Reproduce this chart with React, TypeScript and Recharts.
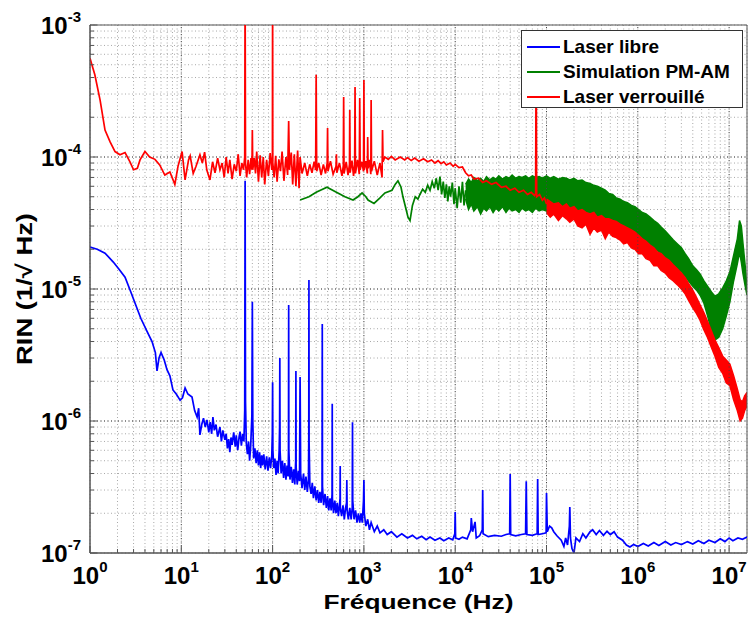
import React from 'react'
import {
  ComposedChart,
  Line,
  Area,
  XAxis,
  YAxis,
  CartesianGrid,
  ReferenceLine,
  ReferenceArea,
  Legend,
  Label,
} from 'recharts'

type Pt = [number, number]
type Band = [number, number, number]

// Laser libre : [frequency Hz, RIN]
const laserLibre: Pt[] = [
  [1, 2.08e-5], [1.2, 2.0e-5], [1.46, 1.87e-5], [1.8, 1.6e-5], [2.1, 1.4e-5], [2.42, 1.23e-5],
  [2.8, 9.5e-6], [3.11, 7.84e-6], [3.6, 6.0e-6], [4.2, 4.8e-6], [4.78, 4.0e-6], [5.2, 3.3e-6],
  [5.42, 2.4e-6], [5.7, 3.0e-6], [6.0, 3.3e-6], [6.5, 2.9e-6], [6.97, 2.45e-6], [7.5, 2.2e-6],
  [8.1, 1.72e-6], [8.8, 1.6e-6], [9.7, 1.44e-6], [10.3, 1.5e-6], [11, 1.78e-6], [11.8, 1.6e-6],
  [13.1, 1.52e-6], [14.0, 1.2e-6], [14.9, 1.07e-6], [15.5, 1.25e-6], [16, 7.84e-7], [16.8, 9.5e-7],
  [17.5, 1.05e-6], [18.3, 9.0e-7], [19.1, 1.02e-6], [20, 8.2e-7], [20.7, 9.8e-7], [21.5, 8.0e-7],
  [22.2, 1.07e-6], [23, 8.5e-7], [24, 9.4e-7], [25, 7.6e-7], [26.5, 9e-7], [27.5, 7.0e-7],
  [28.5, 8.5e-7], [30, 7.2e-7], [31, 8.0e-7], [32, 6.2e-7], [33, 7.3e-7], [34, 5.8e-7],
  [35, 7.5e-7], [36, 6.6e-7], [37.5, 8.2e-7], [39, 6.4e-7], [40, 7.8e-7], [41.5, 6.0e-7],
  [43, 7.6e-7], [44, 8.3e-7], [45.5, 6.5e-7], [47, 8.0e-7], [48.5, 7.0e-7], [49.5, 1.2e-6],
  [50, 6.6e-5], [50.5, 1.4e-6], [51.5, 6.8e-7], [53, 5.6e-7], [54.5, 7.0e-7], [56, 5.0e-7],
  [57.5, 6.4e-7], [59.3, 1.1e-6], [60, 8.0e-6], [60.7, 1.0e-6], [62, 5.2e-7], [64, 6.2e-7],
  [66, 4.8e-7], [68, 6.0e-7], [70, 4.6e-7], [72, 5.8e-7], [74, 4.4e-7], [76, 5.5e-7],
  [78, 4.6e-7], [80, 5.6e-7], [83, 4.3e-7], [86, 5.4e-7], [89, 4.2e-7], [92, 5.3e-7],
  [95, 4.4e-7], [98, 5.5e-7], [99.3, 8e-7], [100, 1.97e-6], [100.7, 6e-7], [103, 4.4e-7],
  [106, 5.2e-7], [109, 3.9e-7], [112, 5.0e-7], [115, 4.0e-7], [118, 6.0e-7], [119.3, 9e-7],
  [120, 3.0e-6], [120.7, 6e-7], [124, 4.0e-7], [128, 5.0e-7], [132, 3.7e-7], [136, 4.8e-7],
  [140, 3.6e-7], [144, 4.6e-7], [148, 3.8e-7], [149.3, 6e-7], [150, 7.57e-6], [150.7, 6e-7],
  [155, 3.6e-7], [160, 4.5e-7], [165, 3.4e-7], [170, 4.3e-7], [175, 3.3e-7], [179, 5e-7],
  [180, 2.39e-6], [181, 4.5e-7], [186, 3.3e-7], [192, 4.2e-7], [197, 3.5e-7], [200, 2.15e-6],
  [203, 4.0e-7], [210, 3.1e-7], [218, 4.0e-7], [225, 3.0e-7], [232, 3.8e-7], [240, 2.9e-7],
  [247, 3.6e-7], [249, 8e-7], [250, 1.17e-5], [251, 7e-7], [256, 3.2e-7], [264, 2.8e-7],
  [272, 3.4e-7], [280, 2.6e-7], [290, 3.2e-7], [300, 2.5e-7], [310, 3.0e-7], [320, 2.4e-7],
  [330, 2.9e-7], [340, 2.4e-7], [348, 3e-7], [350, 5.43e-6], [352, 3.2e-7], [362, 2.3e-7],
  [375, 2.8e-7], [388, 2.2e-7], [400, 2.7e-7], [412, 2.1e-7], [425, 2.6e-7], [438, 2.1e-7],
  [448, 2.8e-7], [450, 1.35e-6], [452, 2.6e-7], [465, 2.0e-7], [480, 2.5e-7], [495, 2.0e-7],
  [510, 2.4e-7], [525, 1.9e-7], [540, 2.3e-7], [548, 2.6e-7], [550, 4.56e-7], [552, 2.2e-7],
  [570, 1.9e-7], [590, 2.3e-7], [610, 1.8e-7], [630, 2.2e-7], [645, 2.4e-7], [650, 3.57e-7],
  [655, 2.1e-7], [675, 1.8e-7], [700, 2.2e-7], [725, 1.8e-7], [745, 2.2e-7], [750, 9.8e-7],
  [755, 2.5e-7], [780, 1.8e-7], [810, 2.1e-7], [840, 1.7e-7], [870, 2.0e-7], [900, 1.7e-7],
  [930, 2.0e-7], [960, 1.7e-7], [990, 2.5e-7], [1000, 3.57e-7], [1010, 2.0e-7], [1050, 1.6e-7],
  [1100, 1.8e-7], [1150, 1.5e-7], [1200, 1.7e-7], [1300, 1.45e-7], [1400, 1.6e-7], [1500, 1.42e-7],
  [1650, 1.5e-7], [1800, 1.38e-7], [2000, 1.45e-7], [2300, 1.32e-7], [2600, 1.4e-7], [3000, 1.3e-7],
  [3400, 1.36e-7], [3800, 1.28e-7], [4300, 1.34e-7], [4800, 1.26e-7], [5300, 1.32e-7], [6000, 1.25e-7],
  [6800, 1.3e-7], [7500, 1.24e-7], [8500, 1.3e-7], [9400, 1.26e-7], [9900, 1.4e-7], [1.0e4, 2.04e-7],
  [1.01e4, 1.3e-7], [1.1e4, 1.27e-7], [1.2e4, 1.32e-7], [1.35e4, 1.28e-7], [1.48e4, 1.5e-7], [1.5e4, 1.84e-7],
  [1.55e4, 1.45e-7], [1.65e4, 1.72e-7], [1.7e4, 1.3e-7], [1.85e4, 1.35e-7], [1.98e4, 1.5e-7], [2.0e4, 3.0e-7],
  [2.02e4, 1.4e-7], [2.3e4, 1.33e-7], [2.7e4, 1.36e-7], [3.2e4, 1.34e-7], [3.6e4, 1.38e-7], [3.95e4, 1.4e-7],
  [4.0e4, 3.97e-7], [4.05e4, 1.38e-7], [4.6e4, 1.35e-7], [5.3e4, 1.38e-7], [5.9e4, 1.4e-7], [6.0e4, 3.5e-7],
  [6.1e4, 1.38e-7], [7.0e4, 1.36e-7], [7.9e4, 1.4e-7], [8.0e4, 3.64e-7], [8.1e4, 1.38e-7], [9.0e4, 1.4e-7],
  [9.9e4, 1.42e-7], [1.0e5, 2.85e-7], [1.02e5, 1.45e-7], [1.08e5, 1.6e-7], [1.14e5, 1.55e-7], [1.2e5, 1.45e-7],
  [1.3e5, 1.35e-7], [1.45e5, 1.25e-7], [1.55e5, 1.12e-7], [1.62e5, 1.3e-7], [1.7e5, 1.15e-7], [1.78e5, 1.6e-7],
  [1.8e5, 2.23e-7], [1.83e5, 1.3e-7], [1.9e5, 1.08e-7], [2.0e5, 1.0e-7], [2.1e5, 1.3e-7], [2.3e5, 1.22e-7],
  [2.5e5, 1.4e-7], [2.7e5, 1.3e-7], [3.0e5, 1.45e-7], [3.2e5, 1.5e-7], [3.5e5, 1.38e-7], [3.8e5, 1.48e-7],
  [4.2e5, 1.36e-7], [4.6e5, 1.46e-7], [5.0e5, 1.38e-7], [5.5e5, 1.45e-7], [6.0e5, 1.32e-7], [6.8e5, 1.25e-7],
  [7.5e5, 1.15e-7], [8.2e5, 1.11e-7], [9e5, 1.16e-7], [1.0e6, 1.12e-7], [1.15e6, 1.18e-7], [1.3e6, 1.13e-7],
  [1.5e6, 1.2e-7], [1.7e6, 1.14e-7], [2.0e6, 1.22e-7], [2.3e6, 1.15e-7], [2.6e6, 1.2e-7], [3.0e6, 1.16e-7],
  [3.5e6, 1.22e-7], [4.0e6, 1.17e-7], [4.6e6, 1.24e-7], [5.3e6, 1.18e-7], [6.0e6, 1.25e-7], [7.0e6, 1.2e-7],
  [8.0e6, 1.28e-7], [9.0e6, 1.22e-7], [1.0e7, 1.3e-7], [1.1e7, 1.24e-7], [1.25e7, 1.3e-7], [1.4e7, 1.27e-7],
  [1.57e7, 1.32e-7],
]

// Simulation PM-AM, thin part
const simLow: Pt[] = [
  [200, 4.72e-5], [250, 5.0e-5], [300, 5.4e-5], [394, 5.9e-5], [500, 5.4e-5], [620, 5.0e-5],
  [760, 4.72e-5], [860, 5.0e-5], [955, 5.34e-5], [1050, 5.0e-5], [1110, 4.72e-5], [1290, 4.45e-5],
  [1500, 4.9e-5], [1700, 5.34e-5], [2030, 5.6e-5], [2200, 6.2e-5], [2360, 6.6e-5], [2550, 5.9e-5],
  [2680, 4.97e-5], [2900, 4.0e-5], [3040, 3.5e-5], [3200, 3.3e-5], [3400, 4.3e-5], [3650, 5.0e-5],
  [3900, 4.8e-5], [4110, 5.2e-5], [4400, 5.7e-5], [4700, 5.4e-5], [5000, 6.1e-5], [5300, 5.6e-5],
  [5600, 6.5e-5], [5900, 5.8e-5], [6200, 6.9e-5], [6500, 5.6e-5], [6810, 7.1e-5], [7100, 5.2e-5],
  [7400, 6.5e-5], [7700, 4.9e-5], [8000, 6.2e-5], [8300, 4.6e-5], [8600, 6.0e-5], [8900, 5.0e-5],
  [9300, 6.4e-5], [9700, 4.4e-5], [1.0e4, 5.8e-5], [1.05e4, 4.1e-5], [1.1e4, 6.0e-5], [1.15e4, 4.5e-5],
  [1.2e4, 6.5e-5], [1.25e4, 4.3e-5], [1.3e4, 5.6e-5],
]

// Simulation PM-AM, noisy band: [frequency, min, max]
const simBand: Band[] = [
  [1.3e4, 4.8e-5, 6.2e-5], [1.4e4, 4.0e-5, 6.8e-5], [1.5e4, 4.4e-5, 6.4e-5], [1.6e4, 3.9e-5, 7.0e-5],
  [1.75e4, 4.2e-5, 6.6e-5], [1.9e4, 3.7e-5, 6.9e-5], [2.05e4, 4.1e-5, 6.5e-5], [2.2e4, 3.9e-5, 7.1e-5],
  [2.4e4, 4.2e-5, 6.7e-5], [2.6e4, 3.8e-5, 7.0e-5], [2.8e4, 4.1e-5, 6.8e-5], [3.0e4, 3.9e-5, 7.2e-5],
  [3.3e4, 4.2e-5, 6.8e-5], [3.6e4, 3.8e-5, 7.1e-5], [3.9e4, 4.1e-5, 6.9e-5], [4.2e4, 3.9e-5, 7.3e-5],
  [4.6e4, 4.0e-5, 6.9e-5], [5.0e4, 3.8e-5, 7.1e-5], [5.4e4, 4.1e-5, 7.0e-5], [5.9e4, 3.9e-5, 7.2e-5],
  [6.4e4, 4.0e-5, 6.9e-5], [7.0e4, 3.8e-5, 7.2e-5], [7.6e4, 4.1e-5, 7.0e-5], [8.3e4, 3.9e-5, 7.1e-5],
  [9.0e4, 4.0e-5, 6.9e-5], [1.0e5, 3.9e-5, 7.2e-5], [1.1e5, 3.8e-5, 6.9e-5], [1.2e5, 4.0e-5, 7.1e-5],
  [1.35e5, 3.7e-5, 6.8e-5], [1.5e5, 3.9e-5, 7.0e-5], [1.65e5, 3.7e-5, 6.9e-5], [1.8e5, 3.8e-5, 6.7e-5],
  [2.0e5, 3.6e-5, 6.9e-5], [2.2e5, 3.7e-5, 6.6e-5], [2.45e5, 3.5e-5, 6.7e-5], [2.7e5, 3.6e-5, 6.4e-5],
  [3.0e5, 3.4e-5, 6.3e-5], [3.3e5, 3.5e-5, 6.1e-5], [3.6e5, 3.3e-5, 6.0e-5], [4.0e5, 3.3e-5, 5.8e-5],
  [4.4e5, 3.1e-5, 5.6e-5], [4.8e5, 3.15e-5, 5.3e-5], [5.3e5, 3.0e-5, 5.2e-5], [5.8e5, 2.9e-5, 4.9e-5],
  [6.4e5, 2.85e-5, 4.8e-5], [7e5, 2.7e-5, 4.6e-5], [7.7e5, 2.65e-5, 4.5e-5], [8.5e5, 2.5e-5, 4.3e-5],
  [9.3e5, 2.45e-5, 4.2e-5], [1.02e6, 2.35e-5, 4.0e-5], [1.12e6, 2.3e-5, 3.8e-5], [1.23e6, 2.2e-5, 3.7e-5],
  [1.36e6, 2.15e-5, 3.5e-5], [1.5e6, 2.0e-5, 3.3e-5], [1.65e6, 1.95e-5, 3.15e-5], [1.8e6, 1.85e-5, 2.95e-5],
  [2.0e6, 1.72e-5, 2.75e-5], [2.2e6, 1.62e-5, 2.55e-5], [2.45e6, 1.52e-5, 2.35e-5], [2.7e6, 1.42e-5, 2.2e-5],
  [3.0e6, 1.35e-5, 2.05e-5], [3.3e6, 1.25e-5, 1.85e-5], [3.6e6, 1.15e-5, 1.7e-5], [4.0e6, 1.05e-5, 1.5e-5],
  [4.4e6, 9.8e-6, 1.4e-5], [4.8e6, 9.0e-6, 1.3e-5], [5.3e6, 7.8e-6, 1.15e-5], [5.8e6, 6.3e-6, 1.05e-5],
  [6.4e6, 4.8e-6, 9.5e-6], [7.0e6, 4.1e-6, 8.8e-6], [7.7e6, 4.3e-6, 9.2e-6], [8.5e6, 5.0e-6, 1.02e-5],
  [9.3e6, 6.2e-6, 1.15e-5], [1.02e7, 8.0e-6, 1.35e-5], [1.12e7, 1.15e-5, 1.8e-5], [1.23e7, 1.55e-5, 2.4e-5],
  [1.3e7, 1.9e-5, 3.3e-5], [1.36e7, 1.6e-5, 3.0e-5], [1.42e7, 1.3e-5, 2.2e-5], [1.5e7, 1.05e-5, 1.5e-5],
  [1.57e7, 9.0e-6, 1.0e-5],
]

// Laser verrouillé, line part
const lockedLow: Pt[] = [
  [1, 5.6e-4], [1.13, 4.2e-4], [1.29, 2.7e-4], [1.46, 1.6e-4], [1.66, 1.3e-4], [1.88, 1.1e-4],
  [2.13, 1.04e-4], [2.42, 1.08e-4], [2.74, 9.2e-5], [3.0, 8.0e-5], [3.3, 8.2e-5], [3.53, 9.5e-5],
  [4.0, 1.1e-4], [4.5, 1.0e-4], [5.15, 9.6e-5], [5.8, 8.7e-5], [6.6, 7.3e-5], [7.5, 7.7e-5],
  [8.5, 6.2e-5], [9.2, 8.5e-5], [10.2, 1.1e-4], [11, 6.7e-5], [12, 9.5e-5], [12.5, 1.02e-4],
  [13.5, 7.5e-5], [14.5, 8.5e-5], [16, 1.04e-4], [17, 9e-5], [18, 1.09e-4], [19, 8e-5],
  [20.6, 6.7e-5], [22, 9.2e-5], [23.4, 7.6e-5], [25, 9.8e-5], [26.5, 8e-5], [28, 9e-5],
  [29.5, 7e-5], [31, 1.0e-4], [32.5, 7.5e-5], [34, 9.5e-5], [36, 6.8e-5], [38, 8.8e-5],
  [40, 7.8e-5], [42, 1.05e-4], [44, 7.2e-5], [46, 9e-5], [48, 8e-5], [49.5, 1e-4],
  [50, 2e-3], [50.5, 9e-5], [52, 7e-5], [54, 9.5e-5], [56, 7.4e-5], [58, 9.8e-5],
  [59.4, 8e-5], [60, 1.6e-4], [60.6, 8e-5], [63, 9.8e-5], [65, 7.5e-5], [67, 1.1e-4],
  [70, 6.5e-5], [73, 1.03e-4], [76, 7e-5], [79, 1.0e-4], [82, 6.2e-5], [86, 9.5e-5],
  [90, 7.2e-5], [94, 1.07e-4], [98, 8e-5], [99.5, 1e-4], [100, 2e-3], [100.5, 9e-5],
  [104, 7e-5], [108, 1.02e-4], [112, 6.5e-5], [117, 9.6e-5], [122, 7.8e-5], [127, 1.1e-4],
  [133, 6.6e-5], [140, 1.0e-4], [146, 7.3e-5], [150, 1.87e-4], [153, 8e-5], [160, 1.08e-4],
  [166, 6.2e-5], [173, 1.05e-4], [180, 6.0e-5], [188, 1.12e-4], [195, 5.8e-5], [200, 1.0e-4],
  [210, 7.5e-5], [225, 9e-5], [240, 7.2e-5], [255, 8.8e-5], [270, 7.6e-5], [285, 9.2e-5],
  [296, 8e-5], [300, 4.2e-4], [304, 7.8e-5], [320, 9e-5], [340, 7.3e-5], [360, 8.8e-5],
  [380, 7.5e-5], [396, 9e-5], [400, 1.66e-4], [404, 7.8e-5], [430, 9.3e-5], [460, 7.4e-5],
  [495, 8.5e-5], [500, 1.05e-4], [505, 7.6e-5], [540, 9e-5], [575, 7.2e-5], [595, 8.6e-5],
  [600, 2.85e-4], [606, 7.5e-5], [640, 9.2e-5], [670, 7.3e-5], [695, 8.8e-5], [700, 2.27e-4],
  [707, 7.6e-5], [740, 9.4e-5], [770, 7.2e-5], [792, 8.8e-5], [800, 3.39e-4], [808, 7.5e-5],
  [850, 9.5e-5], [890, 7.4e-5], [900, 2.8e-4], [910, 8e-5], [950, 9.2e-5], [990, 7.8e-5],
  [1000, 3.83e-4], [1010, 8e-5], [1050, 9.3e-5], [1090, 7.5e-5], [1100, 1.42e-4], [1112, 8.2e-5],
  [1150, 9.5e-5], [1190, 7.4e-5], [1200, 2.7e-4], [1212, 7.8e-5], [1300, 9.3e-5], [1400, 7.3e-5],
  [1500, 9e-5], [1580, 7e-5], [1600, 1.6e-4], [1620, 9.2e-5], [1700, 1.0e-4], [1850, 9.6e-5],
  [2000, 1.01e-4], [2200, 9.5e-5], [2500, 1.0e-4], [2800, 9.5e-5], [3000, 9.9e-5], [3300, 9.4e-5],
  [3600, 9.8e-5], [4000, 9.3e-5], [4500, 9.7e-5], [5000, 9.2e-5], [5500, 9.5e-5], [6000, 9.0e-5],
  [6500, 9.4e-5], [7000, 8.9e-5], [7500, 9.2e-5], [8000, 8.7e-5], [8800, 9.0e-5], [9500, 8.5e-5],
  [1.0e4, 8.8e-5], [1.1e4, 8.3e-5], [1.2e4, 8.4e-5], [1.3e4, 7.6e-5], [1.4e4, 7.2e-5], [1.5e4, 7.3e-5],
  [1.6e4, 6.8e-5], [1.8e4, 6.9e-5], [2.0e4, 6.4e-5], [2.2e4, 6.6e-5], [2.5e4, 6.2e-5], [2.8e4, 6.4e-5],
  [3.2e4, 5.9e-5], [3.6e4, 6.0e-5], [4.0e4, 5.6e-5], [4.5e4, 5.8e-5], [5.0e4, 5.4e-5], [5.6e4, 5.6e-5],
  [6.2e4, 5.2e-5], [6.8e4, 5.4e-5], [7.4e4, 5.1e-5], [7.6e4, 5.3e-5], [7.7e4, 8e-4], [7.8e4, 5.0e-5],
  [8.4e4, 5.2e-5], [9.0e4, 4.7e-5], [9.5e4, 4.9e-5], [1.0e5, 4.4e-5],
]

// Laser verrouillé, noisy band: [frequency, min, max]
const lockedBand: Band[] = [
  [1.0e5, 3.8e-5, 4.8e-5], [1.1e5, 3.5e-5, 4.6e-5], [1.2e5, 3.7e-5, 4.4e-5], [1.35e5, 3.3e-5, 4.5e-5],
  [1.5e5, 3.6e-5, 4.2e-5], [1.65e5, 3.4e-5, 4.4e-5], [1.8e5, 3.2e-5, 4.1e-5], [2.0e5, 3.4e-5, 4.2e-5],
  [2.2e5, 3.0e-5, 3.9e-5], [2.45e5, 2.9e-5, 4.0e-5], [2.7e5, 3.1e-5, 3.8e-5], [3.0e5, 2.6e-5, 3.7e-5],
  [3.3e5, 2.9e-5, 3.8e-5], [3.6e5, 2.7e-5, 3.5e-5], [4.0e5, 2.8e-5, 3.6e-5], [4.4e5, 2.4e-5, 3.4e-5],
  [4.8e5, 2.7e-5, 3.4e-5], [5.3e5, 2.5e-5, 3.3e-5], [5.8e5, 2.45e-5, 3.25e-5], [6.4e5, 2.35e-5, 3.1e-5],
  [7e5, 2.2e-5, 3.0e-5], [7.7e5, 2.25e-5, 2.9e-5], [8.5e5, 2.05e-5, 2.8e-5], [9.3e5, 2.0e-5, 2.7e-5],
  [1.02e6, 1.85e-5, 2.55e-5], [1.12e6, 1.85e-5, 2.4e-5], [1.23e6, 1.7e-5, 2.3e-5], [1.36e6, 1.65e-5, 2.15e-5],
  [1.5e6, 1.5e-5, 2.05e-5], [1.65e6, 1.5e-5, 1.9e-5], [1.8e6, 1.38e-5, 1.85e-5], [2.0e6, 1.32e-5, 1.72e-5],
  [2.2e6, 1.22e-5, 1.65e-5], [2.45e6, 1.15e-5, 1.52e-5], [2.7e6, 1.08e-5, 1.42e-5], [3.0e6, 1.0e-5, 1.32e-5],
  [3.3e6, 9.2e-6, 1.22e-5], [3.6e6, 8.2e-6, 1.1e-5], [4.0e6, 7.2e-6, 9.8e-6], [4.4e6, 6.5e-6, 8.6e-6],
  [4.8e6, 5.8e-6, 7.6e-6], [5.3e6, 4.9e-6, 6.6e-6], [5.8e6, 4.3e-6, 5.7e-6], [6.4e6, 3.6e-6, 4.8e-6],
  [7.0e6, 3.1e-6, 4.1e-6], [7.7e6, 2.55e-6, 3.6e-6], [8.5e6, 2.3e-6, 3.1e-6], [9.3e6, 1.95e-6, 2.9e-6],
  [1.02e7, 1.85e-6, 2.7e-6], [1.12e7, 1.45e-6, 2.2e-6], [1.23e7, 1.2e-6, 1.75e-6], [1.32e7, 1.0e-6, 1.45e-6],
  [1.4e7, 1.05e-6, 1.4e-6], [1.48e7, 1.2e-6, 1.55e-6], [1.57e7, 1.3e-6, 1.65e-6],
]

const X_DECADES = [1, 10, 100, 1e3, 1e4, 1e5, 1e6, 1e7]
const Y_DECADES = [1e-7, 1e-6, 1e-5, 1e-4, 1e-3]
const X_MAX = 1.57e7

const BLUE = '#0000ff'
const GREEN = '#008000'
const RED = '#ff0000'
const FONT = '"Liberation Sans", Arial, Helvetica, sans-serif'

const legendItems = [
  { name: 'Laser libre', color: BLUE },
  { name: 'Simulation PM-AM', color: GREEN },
  { name: 'Laser verrouillé', color: RED },
]

const minorTicks = (decades: number[], max: number) =>
  decades.flatMap((d) => [1, 2, 3, 4, 5, 6, 7, 8, 9].map((m) => m * d)).filter((v) => v <= max * 1.0001)

const xTicks = minorTicks(X_DECADES, X_MAX)
const yTicks = minorTicks(Y_DECADES, 1e-3)

const exponentOf = (v: number) => {
  const l = Math.log10(v)
  const e = Math.round(l)
  return Math.abs(l - e) < 1e-6 ? e : null
}

const toPts = (arr: Pt[]) => arr.map(([f, v]) => ({ f, v }))
const toBand = (arr: Band[]) => arr.map(([f, lo, hi]) => ({ f, r: [lo, hi] }))

// ticks drawn inward from the axis line, labels only on decades
function XTick({ x, y, payload }: any) {
  const e = exponentOf(payload.value)
  const len = e === null ? 4 : 7
  return (
    <g>
      <line x1={x} y1={y} x2={x} y2={y - len} stroke="#555" strokeWidth={1} />
      {e !== null && (
        <text x={x} y={y + 31} textAnchor="middle" fontFamily={FONT} fontWeight="bold" fontSize={24} fill="#000">
          10
          <tspan dy={-12} fontSize={15}>
            {e}
          </tspan>
        </text>
      )}
    </g>
  )
}

function YTick({ x, y, payload }: any) {
  const e = exponentOf(payload.value)
  const len = e === null ? 4 : 7
  return (
    <g>
      <line x1={x} y1={y} x2={x + len} y2={y} stroke="#555" strokeWidth={1} />
      {e !== null && (
        <text x={x - 9} y={y + 9} textAnchor="end" fontFamily={FONT} fontWeight="bold" fontSize={24} fill="#000">
          10
          <tspan dy={-12} fontSize={15}>
            {e}
          </tspan>
        </text>
      )}
    </g>
  )
}

function LegendBox() {
  return (
    <div
      style={{
        width: 222,
        height: 78,
        boxSizing: 'border-box',
        border: '1px solid #333',
        background: '#fff',
        padding: '3px 0 0 5px',
        fontFamily: FONT,
        fontWeight: 'bold',
        fontSize: 19,
        color: '#000',
      }}
    >
      {legendItems.map((it) => (
        <div key={it.name} style={{ display: 'flex', alignItems: 'center', height: 25 }}>
          <span style={{ display: 'inline-block', width: 33, height: 2, background: it.color, marginRight: 3 }} />
          <span>{it.name}</span>
        </div>
      ))}
    </div>
  )
}

export default function App() {
  return (
    <div style={{ position: 'absolute', left: 0, top: 0, width: 749, height: 622, background: '#fff' }}>
      <ComposedChart width={749} height={622} margin={{ top: 25, right: 2, left: 0, bottom: 0 }}>
        <CartesianGrid stroke="#a8a8a8" strokeDasharray="1 2.5" />
        {X_DECADES.slice(1).map((d) => (
          <ReferenceLine key={'x' + d} x={d} stroke="#444" strokeDasharray="1 2.5" />
        ))}
        {Y_DECADES.slice(1, -1).map((d) => (
          <ReferenceLine key={'y' + d} y={d} stroke="#444" strokeDasharray="1 2.5" />
        ))}
        <XAxis
          type="number"
          dataKey="f"
          scale="log"
          domain={[1, X_MAX]}
          allowDataOverflow
          ticks={xTicks}
          interval={0}
          tick={<XTick />}
          tickLine={false}
          tickSize={0}
          tickMargin={0}
          height={69}
          stroke="#555"
        >
          <Label
            content={({ viewBox }: any) => (
              <text
                x={viewBox.x + viewBox.width / 2}
                y={viewBox.y + 56}
                textAnchor="middle"
                fontFamily={FONT}
                fontWeight="bold"
                fontSize={20}
                textLength={190}
                lengthAdjust="spacingAndGlyphs"
                fill="#000"
              >
                Fréquence (Hz)
              </text>
            )}
          />
        </XAxis>
        <YAxis
          type="number"
          scale="log"
          domain={[1e-7, 1e-3]}
          allowDataOverflow
          ticks={yTicks}
          interval={0}
          tick={<YTick />}
          tickLine={false}
          tickSize={0}
          tickMargin={0}
          width={90}
          stroke="#555"
        >
          <Label
            content={({ viewBox }: any) => {
              const cx = viewBox.x + 32
              const cy = viewBox.y + viewBox.height / 2
              return (
                <text
                  x={cx}
                  y={cy}
                  transform={`rotate(-90 ${cx} ${cy})`}
                  textAnchor="middle"
                  fontFamily={FONT}
                  fontWeight="bold"
                  fontSize={22}
                  textLength={152}
                  lengthAdjust="spacingAndGlyphs"
                  fill="#000"
                >
                  RIN (1/√ Hz)
                </text>
              )
            }}
          />
        </YAxis>
        <Line data={toPts(laserLibre)} dataKey="v" stroke={BLUE} strokeWidth={1.7} dot={false} isAnimationActive={false} />
        <Line data={toPts(simLow)} dataKey="v" stroke={GREEN} strokeWidth={1.7} dot={false} isAnimationActive={false} />
        <Area
          data={toBand(simBand)}
          dataKey="r"
          type="linear"
          stroke={GREEN}
          strokeWidth={1.5}
          fill={GREEN}
          fillOpacity={1}
          dot={false}
          activeDot={false}
          isAnimationActive={false}
        />
        <Line data={toPts(lockedLow)} dataKey="v" stroke={RED} strokeWidth={1.7} dot={false} isAnimationActive={false} />
        <Area
          data={toBand(lockedBand)}
          dataKey="r"
          type="linear"
          stroke={RED}
          strokeWidth={1.5}
          fill={RED}
          fillOpacity={1}
          dot={false}
          activeDot={false}
          isAnimationActive={false}
        />
        <ReferenceArea x1={1} x2={X_MAX} y1={1e-7} y2={1e-3} fill="none" stroke="#555" strokeWidth={1} />
        <Legend
          layout="vertical"
          align="center"
          verticalAlign="middle"
          content={() => <LegendBox />}
          wrapperStyle={{ left: 521, top: 30, width: 222, height: 78 }}
        />
      </ComposedChart>
    </div>
  )
}
